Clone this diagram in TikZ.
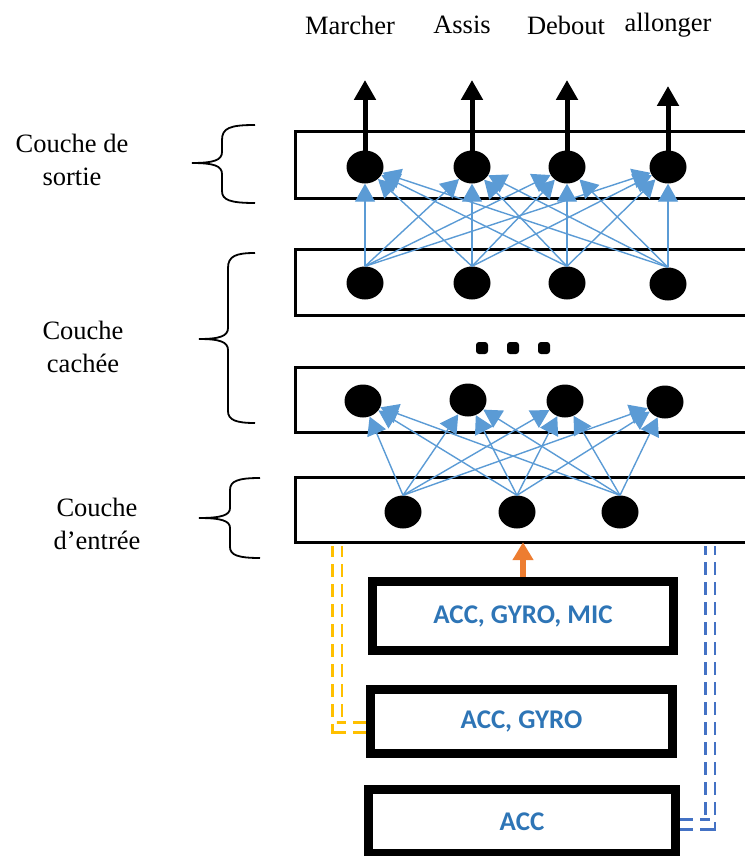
\documentclass[tikz,border=0pt]{standalone}
\usepackage{fontspec}
\setmainfont{Liberation Serif}
\newfontfamily\boxfont{Carlito}
\usetikzlibrary{arrows.meta,shapes.geometric}
\definecolor{connblue}{HTML}{5B9BD5}
\definecolor{txtblue}{HTML}{2E75B6}
\definecolor{dashblue}{HTML}{4472C4}
\definecolor{dashyellow}{HTML}{FFC000}
\definecolor{arrorange}{HTML}{ED7D31}
\begin{document}
\begin{tikzpicture}[x=1pt,y=-1pt,
  neuron/.style={ellipse, fill=black, minimum width=37pt, minimum height=33pt, inner sep=0pt},
  layer/.style={rectangle, draw=none, minimum width=449pt, minimum height=#1, inner sep=0pt},
  layerline/.style={line width=3pt, line join=miter},
  conn/.style={connblue, line width=1.4pt, -{Triangle[length=18pt,width=20pt]}},
  outarrow/.style={line width=5pt, -{Triangle[length=20pt,width=21pt]}},
  lab/.style={font=\fontsize{26.5}{33}\selectfont, align=center, inner sep=0pt},
  dotn/.style={rectangle, rounded corners=3pt, fill=black, minimum size=12pt, inner sep=0pt},
  sbox/.style={rectangle, draw=black, line width=9pt, inner sep=0pt, text=txtblue, font=\boxfont\bfseries\fontsize{27}{30}\selectfont},
  brace/.style={line width=1.8pt},
  ddash/.style={line width=2.8pt, double=white, double distance=7pt, dash pattern=on 13pt off 7pt}
]
\useasboundingbox (0,0) rectangle (745,856);

% top labels
\node[lab] (lm) at (350,25) {Marcher};
\node[lab] (la) at (462,25) {Assis};
\node[lab] (ld) at (566,25) {Debout};
\node[lab] (ll) at (668,25) {allonger};

% side labels
\node[lab] (ls) at (72,160) {Couche de\\sortie};
\node[lab] (lc) at (83,347) {Couche\\cach\'ee};
\node[lab] (le) at (97,524) {Couche\\d’entrée};

% layers
\node[layer=66pt] (L1) at (520.5,165) {};
\node[layer=65pt] (L2) at (520.5,282.5) {};
\node[layer=64pt] (L3) at (520.5,400) {};
\node[layer=64pt] (L4) at (520.5,510) {};
\foreach \L in {L1,L2,L3,L4}
  \draw[layerline] (\L.north east) -- (\L.north west) -- (\L.south west) -- (\L.south east);

% neurons
\node[neuron] (o1) at (365,167) {};
\node[neuron] (o2) at (472,167) {};
\node[neuron] (o3) at (567,167) {};
\node[neuron] (o4) at (668,167) {};
\node[neuron] (h1) at (365,283) {};
\node[neuron] (h2) at (472,283) {};
\node[neuron] (h3) at (567,283) {};
\node[neuron] (h4) at (668,284) {};
\node[neuron] (g1) at (363,401) {};
\node[neuron] (g2) at (468,400) {};
\node[neuron] (g3) at (565,401) {};
\node[neuron] (g4) at (665,402) {};
\node[neuron] (i1) at (403,512) {};
\node[neuron] (i2) at (517,512) {};
\node[neuron] (i3) at (620,512) {};

% dots
\node[dotn] (d1) at (482,348) {};
\node[dotn] (d2) at (513,348) {};
\node[dotn] (d3) at (544,348) {};

% output arrows
\coordinate (t1) at (365,80);
\coordinate (t2) at (472,80);
\coordinate (t3) at (567,80);
\coordinate (t4) at (668,86);
\foreach \k in {1,...,4}
  \draw[outarrow] (o\k.center) -- (t\k);

% connections
\foreach \a in {1,...,4}
  \foreach \b in {1,...,4}
    \draw[conn] (h\a.north) -- (o\b);
\foreach \a in {1,...,3}
  \foreach \b in {1,...,4}
    \draw[conn] (i\a.north) -- (g\b);

% braces
\draw[brace] (255,125) .. controls (230,125) and (222,128) .. (222,140) -- (222,152)
  .. controls (222,160) and (214,163) .. (192,163)
  .. controls (214,163) and (222,166) .. (222,174) -- (222,191)
  .. controls (222,200) and (230,203) .. (255,203);
\draw[brace] (255,253) .. controls (236,253) and (228,256) .. (228,268) -- (228,328)
  .. controls (228,336) and (220,339) .. (199,339)
  .. controls (220,339) and (228,342) .. (228,350) -- (228,411)
  .. controls (228,420) and (236,423) .. (255,423);
\draw[brace] (260,478) .. controls (238,478) and (230,481) .. (230,490) -- (230,508)
  .. controls (230,515) and (222,518) .. (199,518)
  .. controls (222,518) and (230,521) .. (230,528) -- (230,547)
  .. controls (230,555) and (238,558) .. (260,558);

% sensor boxes
\node[sbox, minimum width=301pt, minimum height=69pt] (b1) at (523,616) {ACC, GYRO, MIC};
\node[sbox, minimum width=302pt, minimum height=64pt] (b2) at (521.5,721.5) {ACC, GYRO};
\node[sbox, minimum width=307pt, minimum height=64pt] (b3) at (522,821.5) {ACC};

% orange arrow
\draw[arrorange, line width=6pt, -{Triangle[length=18pt,width=20pt]}] (b1.north) -- (L4.south -| b1.north);

% dashed links
\coordinate (yt) at (337,546);
\coordinate (bt) at (710,546);
\draw[ddash, dashyellow] ([yshift=-6pt]b2.west) -| (yt);
\draw[ddash, dashblue] ([yshift=-3pt]b3.east) -| (bt);
\end{tikzpicture}
\end{document}
